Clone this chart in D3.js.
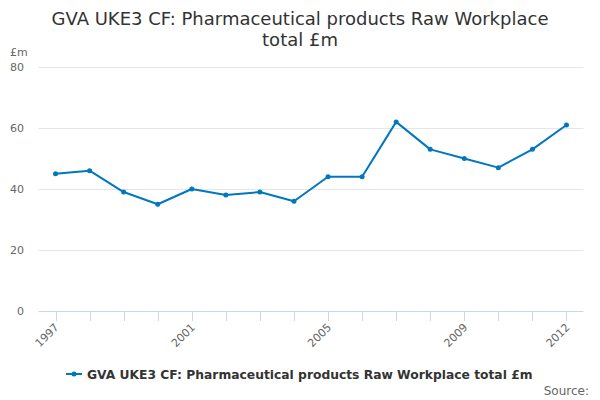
<!DOCTYPE html>
<html><head><meta charset="utf-8">
<script src="https://cdn.jsdelivr.net/npm/d3@7"></script>
<style>body{margin:0;background:#fff;font-family:"DejaVu Sans",sans-serif;}</style>
</head><body><svg id="c" width="600" height="400"></svg>
<script>
const years = [1997,1998,1999,2000,2001,2002,2003,2004,2005,2006,2007,2008,2009,2010,2011,2012];
const values = [45,46,39,35,40,38,39,36,44,44,62,53,50,47,53,61];
const yTicks = [0,20,40,60,80];
const xLabelYears = [1997,2001,2005,2009,2012];
const seriesName = "GVA UKE3 CF: Pharmaceutical products Raw Workplace total £m";
const titleLines = ["GVA UKE3 CF: Pharmaceutical products Raw Workplace","total £m"];

const svg = d3.select("#c");
const x = d3.scaleBand().domain(years).range([38.5, 583.5]);
const y = d3.scaleLinear().domain([0,80]).range([311, 67]);
const cx = d => x(d) + x.bandwidth()/2;

svg.append("g").selectAll("text").data(titleLines).join("text")
  .attr("x",300).attr("y",(d,i)=>25+i*21).attr("text-anchor","middle")
  .attr("font-size",18).attr("fill","#333").text(d=>d);

// gridlines
svg.append("g").selectAll("line").data(yTicks.filter(t=>t>0)).join("line")
  .attr("x1",38.5).attr("x2",583.5).attr("y1",d=>Math.round(y(d))+0.5).attr("y2",d=>Math.round(y(d))+0.5)
  .attr("stroke","#e6e6e6");

svg.append("g").selectAll("text").data(yTicks).join("text")
  .attr("x",24).attr("y",d=>y(d)+4).attr("text-anchor","end")
  .attr("font-size",11).attr("fill","#666").text(d=>d);
svg.append("text").attr("x",10).attr("y",56).attr("font-size",11).attr("fill","#666").text("£m");

// x axis
const ax = svg.append("g");
ax.append("line").attr("x1",38.5).attr("x2",583.5).attr("y1",311.5).attr("y2",311.5).attr("stroke","#ccd6eb");
ax.selectAll("line.t").data(years).join("line").attr("class","t")
  .attr("x1",d=>Math.round(cx(d))+0.5).attr("x2",d=>Math.round(cx(d))+0.5)
  .attr("y1",311).attr("y2",321).attr("stroke","#ccd6eb");
ax.selectAll("text").data(xLabelYears).join("text")
  .attr("transform",d=>`translate(${cx(d)+4},${328}) rotate(-45)`)
  .attr("text-anchor","end").attr("font-size",11).attr("fill","#666").text(d=>d);

// line
const line = d3.line().x((d,i)=>cx(years[i])).y(d=>y(d));
svg.append("path").datum(values).attr("d",line).attr("fill","none")
  .attr("stroke","#0077bf").attr("stroke-width",2).attr("stroke-linejoin","round");
svg.append("g").selectAll("circle").data(values).join("circle")
  .attr("cx",(d,i)=>cx(years[i])).attr("cy",d=>y(d)).attr("r",2.5).attr("fill","#0077bf");

// legend
const lg = svg.append("g");
lg.append("line").attr("x1",66).attr("x2",82).attr("y1",374).attr("y2",374).attr("stroke","#0077bf").attr("stroke-width",2);
lg.append("circle").attr("cx",74).attr("cy",374).attr("r",2.5).attr("fill","#0077bf");
lg.append("text").attr("x",87).attr("y",378.5).attr("font-size",12.3).attr("font-weight","bold").attr("fill","#333").text(seriesName);

svg.append("text").attr("x",589).attr("y",395).attr("text-anchor","end").attr("font-size",12).attr("fill","#666").text("Source:");
</script></body></html>
